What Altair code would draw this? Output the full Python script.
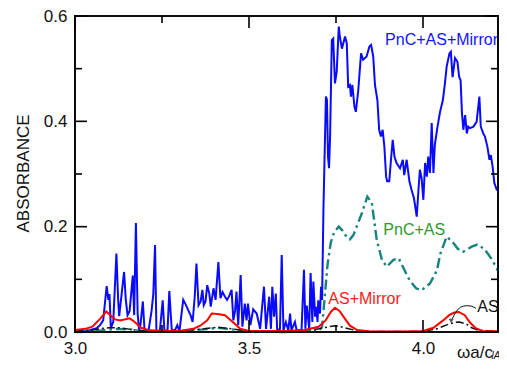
import altair as alt
import pandas as pd

FONT = "Liberation Sans"

# ---- data ----
blue_x = [3.000, 3.034, 3.062, 3.072, 3.081, 3.091, 3.096, 3.099, 3.103, 3.110, 3.119, 3.124, 3.127, 3.134,
          3.141, 3.146, 3.151, 3.157, 3.166, 3.170, 3.175, 3.180, 3.184, 3.188, 3.195, 3.200, 3.211, 3.220,
          3.225, 3.230, 3.234, 3.244, 3.252, 3.257, 3.266, 3.271, 3.278, 3.287, 3.294, 3.300, 3.311, 3.319,
          3.325, 3.332, 3.338, 3.344, 3.349, 3.355, 3.361, 3.366, 3.370, 3.375, 3.380, 3.386, 3.390, 3.398,
          3.404, 3.412, 3.418, 3.424, 3.431, 3.437, 3.443, 3.450, 3.455, 3.460, 3.464, 3.469, 3.476, 3.481,
          3.488, 3.493, 3.497, 3.504, 3.512, 3.522, 3.532, 3.543, 3.549, 3.558, 3.563, 3.567, 3.572, 3.577,
          3.581, 3.589, 3.594, 3.599, 3.606, 3.613, 3.618, 3.622, 3.632, 3.637, 3.651, 3.658, 3.662, 3.666,
          3.673, 3.677, 3.682, 3.685, 3.690, 3.693, 3.697, 3.699, 3.704, 3.707, 3.710, 3.714, 3.721, 3.724,
          3.727, 3.730, 3.733, 3.738, 3.742, 3.747, 3.752, 3.758, 3.761, 3.767, 3.776, 3.781, 3.785, 3.790,
          3.793, 3.797, 3.803, 3.807, 3.814, 3.822, 3.828, 3.838, 3.846, 3.851, 3.857, 3.862, 3.869, 3.874,
          3.879, 3.884, 3.889, 3.894, 3.897, 3.903, 3.908, 3.913, 3.918, 3.924, 3.934, 3.942, 3.946, 3.953,
          3.961, 3.967, 3.974, 3.982, 3.987, 3.991, 3.996, 4.001, 4.006, 4.011, 4.015, 4.020, 4.025, 4.030,
          4.034, 4.041, 4.049, 4.057, 4.063, 4.068, 4.076, 4.080, 4.085, 4.092, 4.099, 4.104, 4.108, 4.112,
          4.116, 4.121, 4.126, 4.130, 4.135, 4.145, 4.154, 4.162, 4.166, 4.173, 4.178, 4.185, 4.191, 4.195,
          4.200, 4.205, 4.212, 4.216, 4.221, 4.226, 4.231, 4.236]
blue_y = [0.001, 0.002, 0.007, 0.013, 0.022, 0.087, 0.061, 0.072, 0.007, 0.020, 0.149, 0.061, 0.030, 0.072,
          0.114, 0.061, 0.032, 0.040, 0.107, 0.032, 0.207, 0.035, 0.004, 0.013, 0.058, 0.001, 0.001, 0.040,
          0.072, 0.165, 0.001, 0.003, 0.060, 0.001, 0.004, 0.078, 0.004, 0.003, 0.013, 0.001, 0.061, 0.051,
          0.042, 0.032, 0.019, 0.067, 0.130, 0.051, 0.058, 0.080, 0.051, 0.058, 0.089, 0.073, 0.048, 0.083,
          0.061, 0.133, 0.064, 0.076, 0.067, 0.061, 0.068, 0.080, 0.022, 0.040, 0.077, 0.013, 0.108, 0.010,
          0.054, 0.022, 0.054, 0.013, 0.043, 0.035, 0.006, 0.086, 0.006, 0.067, 0.006, 0.086, 0.029, 0.073,
          0.003, 0.006, 0.146, 0.003, 0.019, 0.003, 0.035, 0.003, 0.019, 0.003, 0.004, 0.118, 0.006, 0.050,
          0.006, 0.112, 0.019, 0.096, 0.029, 0.048, 0.019, 0.060, 0.035, 0.086, 0.061, 0.237, 0.447, 0.441,
          0.333, 0.311, 0.371, 0.554, 0.557, 0.472, 0.494, 0.580, 0.561, 0.538, 0.561, 0.548, 0.466, 0.469,
          0.447, 0.469, 0.428, 0.418, 0.459, 0.529, 0.517, 0.523, 0.542, 0.545, 0.523, 0.469, 0.440, 0.384,
          0.371, 0.384, 0.352, 0.295, 0.286, 0.286, 0.327, 0.365, 0.333, 0.321, 0.311, 0.327, 0.298, 0.327,
          0.286, 0.270, 0.254, 0.219, 0.270, 0.308, 0.292, 0.251, 0.321, 0.295, 0.333, 0.302, 0.397, 0.302,
          0.355, 0.387, 0.418, 0.440, 0.472, 0.504, 0.529, 0.532, 0.484, 0.520, 0.513, 0.484, 0.478, 0.415,
          0.384, 0.412, 0.377, 0.390, 0.387, 0.390, 0.399, 0.447, 0.390, 0.377, 0.371, 0.352, 0.327, 0.336,
          0.314, 0.283, 0.270, 0.270, 0.257, 0.241, 0.238, 0.219]

teal_x = [3.000, 3.050, 3.090, 3.120, 3.160, 3.200, 3.300, 3.370, 3.410, 3.440, 3.500, 3.600, 3.700, 3.710,
          3.718, 3.726, 3.735, 3.745, 3.758, 3.768, 3.781, 3.790, 3.800, 3.824, 3.840, 3.853, 3.867, 3.882,
          3.896, 3.915, 3.930, 3.945, 3.961, 3.980, 3.995, 4.020, 4.040, 4.050, 4.068, 4.085, 4.100, 4.115,
          4.140, 4.156, 4.176, 4.197, 4.215, 4.236]
teal_y = [0.000, 0.001, 0.004, 0.006, 0.005, 0.001, 0.001, 0.005, 0.008, 0.006, 0.001, 0.000, 0.002, 0.010,
          0.070, 0.130, 0.170, 0.190, 0.200, 0.193, 0.180, 0.176, 0.184, 0.225, 0.257, 0.245, 0.175, 0.137,
          0.124, 0.137, 0.140, 0.120, 0.099, 0.083, 0.079, 0.092, 0.117, 0.149, 0.181, 0.171, 0.158, 0.152,
          0.162, 0.166, 0.158, 0.139, 0.117, 0.105]

red_x = [3.000, 3.030, 3.050, 3.072, 3.090, 3.105, 3.115, 3.130, 3.157, 3.170, 3.190, 3.210, 3.250, 3.300,
         3.340, 3.360, 3.380, 3.393, 3.410, 3.431, 3.455, 3.475, 3.500, 3.600, 3.660, 3.700, 3.720, 3.735,
         3.747, 3.760, 3.775, 3.790, 3.810, 3.850, 3.950, 4.000, 4.030, 4.058, 4.075, 4.090, 4.103, 4.120,
         4.135, 4.150, 4.170, 4.240]
red_y = [0.004, 0.006, 0.010, 0.025, 0.039, 0.030, 0.024, 0.022, 0.026, 0.020, 0.008, 0.004, 0.002, 0.002,
         0.006, 0.012, 0.022, 0.035, 0.034, 0.032, 0.018, 0.006, 0.002, 0.002, 0.004, 0.010, 0.022, 0.038,
         0.046, 0.040, 0.026, 0.012, 0.004, 0.001, 0.001, 0.002, 0.008, 0.022, 0.032, 0.037, 0.038, 0.032,
         0.018, 0.008, 0.002, 0.001]

black_x = [3.000, 3.050, 3.080, 3.100, 3.130, 3.160, 3.200, 3.300, 3.370, 3.410, 3.450, 3.500, 3.650, 3.700,
           3.730, 3.748, 3.770, 3.800, 3.850, 4.000, 4.040, 4.070, 4.090, 4.105, 4.125, 4.140, 4.160, 4.240]
black_y = [0.002, 0.004, 0.007, 0.008, 0.008, 0.005, 0.002, 0.002, 0.006, 0.009, 0.006, 0.002, 0.002, 0.006,
           0.010, 0.012, 0.009, 0.004, 0.001, 0.001, 0.006, 0.014, 0.018, 0.019, 0.015, 0.008, 0.003, 0.001]

label_text = ["PnC+AS+Mirror", "PnC+AS", "AS+Mirror", "AS"]
label_x = [3.891, 3.886, 3.728, 4.156]
label_y = [0.545, 0.184, 0.053, 0.0374]
label_color = ["#1414ff", "#2c9a2c", "#ff1a1a", "#111111"]

leader_x = [4.152, 4.140, 4.126, 4.116, 4.108, 4.099, 4.091, 4.084]
leader_y = [0.045, 0.049, 0.050, 0.049, 0.047, 0.042, 0.034, 0.025]
arrow_x = [4.081]
arrow_y = [0.021]

y_major = [0.0, 0.2, 0.4, 0.6]
y_minor = [0.1, 0.3, 0.5]
x_major = [3.0, 3.5, 4.0]
x_minor = [3.25, 3.75]

W, H = 423, 316
XMIN = 3.0
XMAX = 3.0 + W / 348.0
YMAX = 0.6
PAD = {"left": 67, "top": 8, "right": 1, "bottom": 28}
MAJOR, MINOR = 12, 7
LW = 1.6   # frame / tick thickness in px

xs = alt.Scale(domain=[XMIN, XMAX], nice=False, zero=False)
ys = alt.Scale(domain=[0, YMAX], nice=False)

def series(xv, yv):
    return pd.DataFrame({"x": xv, "y": yv})

X = alt.X("x:Q", scale=xs)
Y = alt.Y("y:Q", scale=ys)

X_AXIS = alt.X("x:Q", scale=xs,
               axis=alt.Axis(values=x_major, format=".1f", ticks=False, domain=False, grid=False,
                             labelPadding=8, title="ωa/c", titleAlign="left",
                             titleBaseline="alphabetic", titleX=381.5, titleY=25))
Y_AXIS = alt.Y("y:Q", scale=ys,
               axis=alt.Axis(values=y_major, format=".1f", ticks=False, domain=False, grid=False,
                             labelPadding=8, title="ABSORBANCE", titleBaseline="alphabetic",
                             titleX=-47, titleY=157))

blue = alt.Chart(series(blue_x, blue_y)).mark_line(
    color="#0a0aff", strokeWidth=2).encode(x=X_AXIS, y=Y_AXIS)
teal = alt.Chart(series(teal_x, teal_y)).mark_line(
    color="#178282", strokeWidth=2.4, strokeDash=[10, 4, 2.5, 4]).encode(x=X, y=Y)
black = alt.Chart(series(black_x, black_y)).mark_line(
    color="#111111", strokeWidth=1.5, strokeDash=[8, 3, 2, 3]).encode(x=X, y=Y)
red = alt.Chart(series(red_x, red_y)).mark_line(
    color="#ff0000", strokeWidth=2).encode(x=X, y=Y)
leader = alt.Chart(series(leader_x, leader_y)).mark_line(
    color="#111111", strokeWidth=1).encode(x=X, y=Y)
arrow = alt.Chart(series(arrow_x, arrow_y)).mark_point(
    shape="triangle-down", filled=True, size=26, color="#111111").encode(x=X, y=Y)

text_layers = [
    alt.Chart(series([lx], [ly])).mark_text(
        font=FONT, fontSize=16, align="left", baseline="alphabetic", color=lc, text=lt).encode(x=X, y=Y)
    for lt, lx, ly, lc in zip(label_text, label_x, label_y, label_color)
]

sub = alt.Chart(series([4.197], [0])).mark_text(
    font=FONT, fontSize=10, fontStyle="italic", align="left", baseline="alphabetic",
    color="#111111", text="lAu").encode(x=X, y=alt.value(H + 27))

# inward ticks drawn as filled tick marks (thin rectangles)
def yticks(vals, length):
    d = pd.DataFrame({"y": vals})
    left = alt.Chart(d).mark_tick(color="#000000", size=length, thickness=LW, orient="horizontal",
                                  opacity=1, filled=True).encode(y=Y, x=alt.value(length / 2))
    right = alt.Chart(d).mark_tick(color="#000000", size=length, thickness=LW, orient="horizontal",
                                   opacity=1, filled=True).encode(y=Y, x=alt.value(W - length / 2))
    return [left, right]

def xticks(vals, length):
    d = pd.DataFrame({"x": vals})
    bottom = alt.Chart(d).mark_tick(color="#000000", size=length, thickness=LW, orient="vertical",
                                    opacity=1, filled=True).encode(x=X, y=alt.value(H - length / 2))
    top = alt.Chart(d).mark_tick(color="#000000", size=length, thickness=LW, orient="vertical",
                                 opacity=1, filled=True).encode(x=X, y=alt.value(length / 2))
    return [bottom, top]

ticks = yticks(y_major, MAJOR) + yticks(y_minor, MINOR) + xticks(x_major, MAJOR) + xticks(x_minor, MINOR)

# frame as four thin filled rectangles
one = pd.DataFrame({"k": [0]})
def bar(x1, x2, y1, y2):
    return alt.Chart(one).mark_rect(color="#000000", opacity=1).encode(
        x=alt.value(x1), x2=alt.value(x2), y=alt.value(y1), y2=alt.value(y2))

frame = [
    bar(-LW / 2, W + LW / 2, -LW / 2, LW / 2),
    bar(-LW / 2, W + LW / 2, H - LW / 2, H + LW / 2),
    bar(-LW / 2, LW / 2, -LW / 2, H + LW / 2),
    bar(W - LW / 2, W + LW / 2, -LW / 2, H + LW / 2),
]

chart = alt.layer(blue, teal, black, red, leader, arrow, *text_layers, sub, *ticks, *frame).properties(
    width=W, height=H,
    autosize=alt.AutoSizeParams(type="none"),
    padding=PAD,
).configure_view(
    stroke="black", strokeWidth=1.6
).configure_axis(
    labelFont=FONT, labelFontSize=17, labelColor="#111111", labelFlush=False,
    titleFont=FONT, titleFontSize=17, titleFontWeight="normal", titleColor="#111111"
)

chart.save("out.html", embed_options={"renderer": "svg", "actions": False})
